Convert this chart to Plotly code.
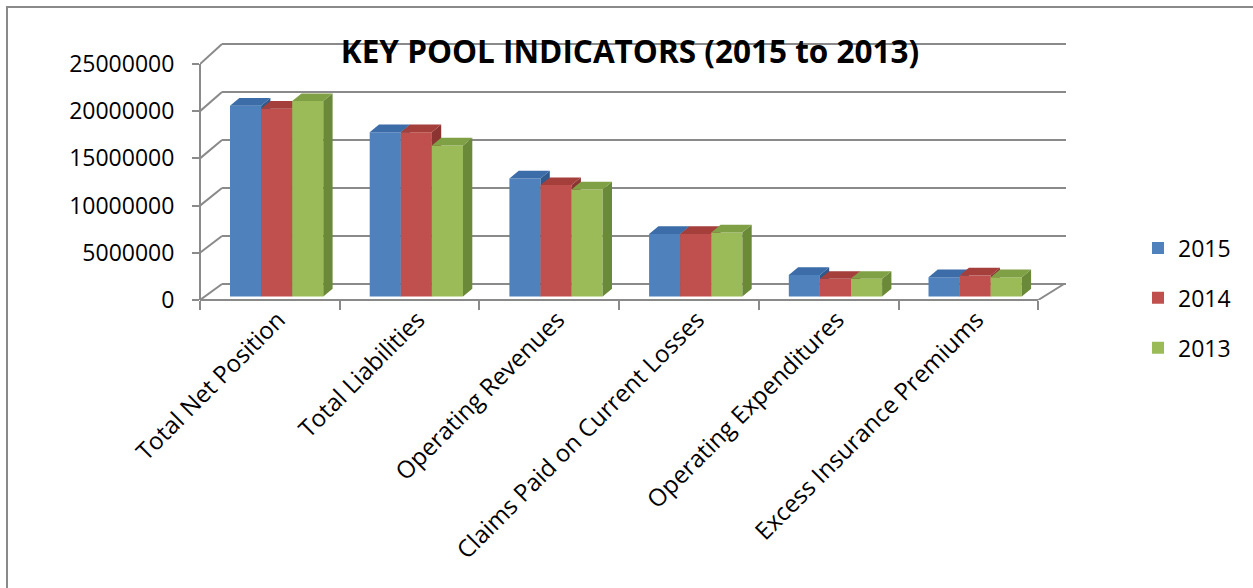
import plotly.graph_objects as go

# ---------------- data ----------------
categories = ["Total Net Position", "Total Liabilities", "Operating Revenues",
              "Claims Paid on Current Losses", "Operating Expenditures",
              "Excess Insurance Premiums"]
series_names = ["2015", "2014", "2013"]
values_2015 = [20200000, 17400000, 12500000, 6620000, 2290000, 2040000]
values_2014 = [19900000, 17400000, 11800000, 6620000, 1870000, 2220000]
values_2013 = [20700000, 16000000, 11340000, 6790000, 1870000, 2040000]
y_tick_values = [0, 5000000, 10000000, 15000000, 20000000, 25000000]
title_text = "KEY POOL INDICATORS (2015 to 2013)"

series_values = [values_2015, values_2014, values_2013]
front_colors = ["#4F81BD", "#C0504D", "#9BBB59"]
top_colors = ["#3D6DA8", "#A43F3C", "#80A046"]
side_colors = ["#30598C", "#8C3431", "#6A8939"]

# ---------------- geometry (pixels) ----------------
W, H = 1253, 588
PL, PR, PT, PB = 200, 1072, 40, 300
CAT_PX = 139.7
FRONT_PX_PER_VAL = 236 / 25e6
BACK_ZERO_PX, BACK_PX_PER_VAL = 284, 240 / 25e6
BACK_X0_PX, BACK_X1_PX = 222, 1066
FRONT_X1_PX = PL + 6 * CAT_PX
BAR_W_PX, GROUP_OFF_PX, BAR_BASE_PX = 31.1, 30, 3.5
DEPTH_DX_PX, DEPTH_DY_PX = 9.3, 7.7
GRID_COLOR = "#8A8A8A"
FONT = "Open Sans"


def xu(px):
    return (px - PL) / CAT_PX


def yu(py):
    return (PB - py) / FRONT_PX_PER_VAL


x_range = [0, xu(PR)]
y_range = [0, yu(PT)]
bar_w = BAR_W_PX / CAT_PX
base_val = BAR_BASE_PX / FRONT_PX_PER_VAL
dxu = DEPTH_DX_PX / CAT_PX
dyv = DEPTH_DY_PX / FRONT_PX_PER_VAL

fig = go.Figure()

for k, (name, vals) in enumerate(zip(series_names, series_values)):
    sfx = "" if k == 0 else str(k + 1)
    xa, ya = "x" + sfx, "y" + sfx
    lefts = [i + (GROUP_OFF_PX + k * BAR_W_PX) / CAT_PX for i in range(len(categories))]
    centers = [l + bar_w / 2 for l in lefts]
    fig.add_trace(go.Bar(
        x=centers, y=vals, base=[base_val] * len(vals), width=bar_w,
        name=name, legendgroup=name, marker=dict(color=front_colors[k], line=dict(width=0)),
        xaxis=xa, yaxis=ya, hoverinfo="skip"))
    tx, ty, sx, sy = [], [], [], []
    for l, v in zip(lefts, vals):
        r = l + bar_w
        t = base_val + v
        tx += [l, l + dxu, r + dxu, r, l, None]
        ty += [t, t + dyv, t + dyv, t, t, None]
        sx += [r, r + dxu, r + dxu, r, r, None]
        sy += [base_val, base_val + dyv, t + dyv, t, base_val, None]
    fig.add_trace(go.Scatter(x=sx, y=sy, mode="lines", fill="toself",
                             fillcolor=side_colors[k], line=dict(width=0),
                             showlegend=False, hoverinfo="skip", xaxis=xa, yaxis=ya))
    fig.add_trace(go.Scatter(x=tx, y=ty, mode="lines", fill="toself",
                             fillcolor=top_colors[k], line=dict(width=0),
                             showlegend=False, hoverinfo="skip", xaxis=xa, yaxis=ya))

shapes = []
for v in y_tick_values:
    yb = yu(BACK_ZERO_PX - BACK_PX_PER_VAL * v)
    shapes.append(dict(type="line", xref="x", yref="y", x0=xu(BACK_X0_PX), x1=xu(BACK_X1_PX),
                       y0=yb, y1=yb, line=dict(color=GRID_COLOR, width=2), layer="below"))
    shapes.append(dict(type="line", xref="x", yref="y", x0=0, x1=xu(BACK_X0_PX),
                       y0=v, y1=yb, line=dict(color=GRID_COLOR, width=2), layer="below"))
shapes.append(dict(type="line", xref="x", yref="paper", x0=0, x1=xu(FRONT_X1_PX), y0=0, y1=0,
                   line=dict(color=GRID_COLOR, width=2), layer="below"))
yb0 = yu(BACK_ZERO_PX)
shapes.append(dict(type="line", xref="x", yref="y", x0=xu(FRONT_X1_PX), x1=xu(BACK_X1_PX - 2),
                   y0=0, y1=yb0, line=dict(color=GRID_COLOR, width=2), layer="below"))
shapes.append(dict(type="line", xref="paper", yref="y", x0=0, x1=0, y0=0, y1=y_tick_values[-1],
                   line=dict(color=GRID_COLOR, width=2), layer="below"))
shapes.append(dict(type="rect", xref="paper", yref="paper",
                   x0=(7 - PL) / (PR - PL), x1=(1300 - PL) / (PR - PL),
                   y0=(PB - 700) / (PB - PT), y1=(PB - 7) / (PB - PT),
                   line=dict(color="#8A8A8A", width=2), fillcolor="rgba(0,0,0,0)", layer="below"))

axis_hidden = dict(visible=False, showgrid=False, zeroline=False, fixedrange=True)

fig.update_layout(
    width=W, height=H,
    margin=dict(l=PL, r=W - PR, t=PT, b=H - PB, pad=0),
    paper_bgcolor="white", plot_bgcolor="white",
    font=dict(family=FONT, color="black"),
    title=dict(text=title_text, x=630 / W, xref="container", xanchor="center",
               y=1 - 52 / H, yref="container", yanchor="middle",
               font=dict(family=FONT, size=31.5, color="black", weight="bold")),
    showlegend=True,
    legend=dict(x=(1138 - PL) / (PR - PL), xanchor="left", y=(PB - 298) / (PB - PT),
                yanchor="middle", font=dict(family=FONT, size=23, color="black"),
                tracegroupgap=17, bgcolor="rgba(0,0,0,0)"),
    xaxis=dict(range=x_range, showgrid=False, zeroline=False, showline=False,
               tickmode="array", tickvals=[i + 0.56 for i in range(len(categories))],
               ticktext=categories, tickangle=-45, ticks="",
               tickfont=dict(family=FONT, size=24, color="black"),
               minor=dict(ticks="outside", tick0=0, dtick=1, ticklen=9, tickwidth=2,
                          tickcolor=GRID_COLOR, showgrid=False),
               fixedrange=True),
    yaxis=dict(range=y_range, showgrid=False, zeroline=False, showline=False,
               tickmode="array", tickvals=y_tick_values, tickformat="d",
               ticks="outside", ticklen=7, tickwidth=2, tickcolor=GRID_COLOR,
               ticklabelstandoff=13,
               tickfont=dict(family=FONT, size=23, color="black"), fixedrange=True),
    xaxis2=dict(overlaying="x", anchor="y2", range=x_range, **axis_hidden),
    yaxis2=dict(overlaying="y", anchor="x2", range=y_range, **axis_hidden),
    xaxis3=dict(overlaying="x", anchor="y3", range=x_range, **axis_hidden),
    yaxis3=dict(overlaying="y", anchor="x3", range=y_range, **axis_hidden),
    shapes=shapes,
)

fig.write_html("out.html")
